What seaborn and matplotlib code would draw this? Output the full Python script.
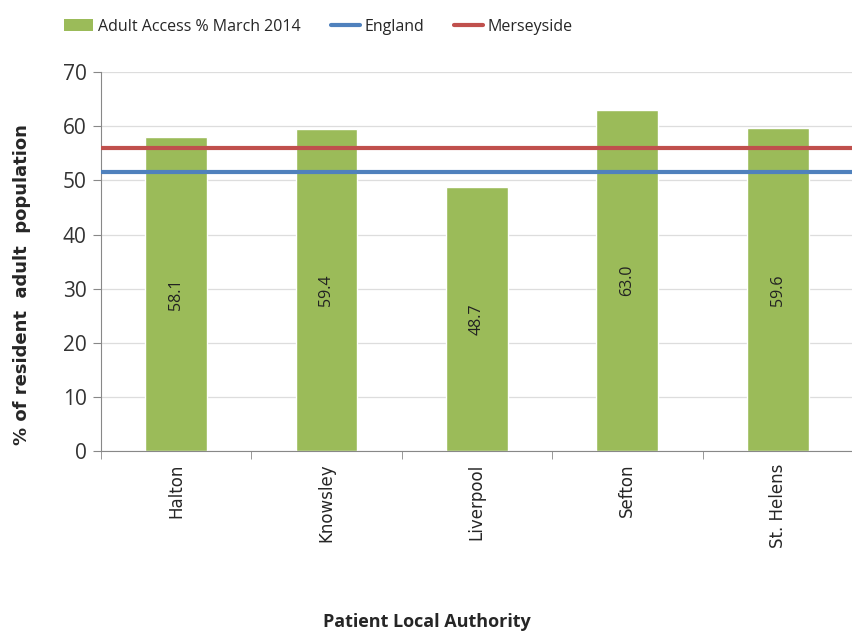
import numpy as np
import pandas as pd
import seaborn as sns
import matplotlib.pyplot as plt
from matplotlib.lines import Line2D
from matplotlib.patches import Patch

# =============================================================================
# DATA
# =============================================================================

authorities = ["Halton", "Knowsley", "Liverpool", "Sefton", "St. Helens"]
access_pct = [58.1, 59.4, 48.7, 63.0, 59.6]
england_pct = 51.5
merseyside_pct = 56.0

bar_colour = "#9BBB59"
england_colour = "#4F81BD"
merseyside_colour = "#C0504D"

df = pd.DataFrame({"Authority": authorities, "Access": access_pct})

# =============================================================================
# PLOT
# =============================================================================

sns.set_style("white")
plt.rcParams["font.family"] = ["DejaVu Sans"]

fig = plt.figure(figsize=(8.53, 6.32), dpi=100)
ax = fig.add_axes([0.118, 0.286, 0.882, 0.600])

sns.barplot(
    data=df,
    x="Authority",
    y="Access",
    color=bar_colour,
    width=0.41,
    saturation=1,
    ax=ax
)

ax.axhline(england_pct, color=england_colour, linewidth=3, zorder=4)
ax.axhline(merseyside_pct, color=merseyside_colour, linewidth=3, zorder=4)

# value labels, rotated, centred in bars
for i, v in enumerate(access_pct):
    ax.text(i, v / 2, f"{v:.1f}", rotation=90, ha="center", va="center",
            fontsize=11.5, family="Open Sans", color="#222222", zorder=5)

ax.set_ylim(0, 70)
ax.set_xlim(-0.5, len(authorities) - 0.5)
ax.set_yticks(np.arange(0, 71, 10))
ax.yaxis.grid(True, color="#DDDDDD", linewidth=0.9)
ax.set_axisbelow(True)

ax.tick_params(axis="y", labelsize=15, length=6, color="#888888", direction="out", left=True, pad=4)
for lab in ax.get_yticklabels():
    lab.set_family("Open Sans")
    lab.set_color("#333333")

ax.set_xticks(range(len(authorities)))
ax.set_xticklabels(authorities, rotation=90, fontsize=12)
ax.tick_params(axis="x", which="major", length=0, pad=9)
ax.set_xticks(np.arange(-0.5, len(authorities), 1), minor=True)
ax.tick_params(axis="x", which="minor", length=6, color="#888888", direction="out", bottom=True)

for side in ["top", "right"]:
    ax.spines[side].set_visible(False)
for side in ["left", "bottom"]:
    ax.spines[side].set_color("#888888")

ax.set_xlabel("")
ax.set_ylabel("% of resident  adult  population", fontsize=13, fontweight="bold")
ax.yaxis.set_label_coords(-0.092, 0.44)

fig.text(0.5, 0.016, "Patient Local Authority", ha="center", va="center",
         fontsize=13, fontweight="bold", family="Open Sans")

handles = [
    Patch(facecolor=bar_colour, edgecolor="none"),
    Line2D([0], [0], color=england_colour, linewidth=3),
    Line2D([0], [0], color=merseyside_colour, linewidth=3),
]
labels = ["Adult Access % March 2014", "England", "Merseyside"]
fig.legend(handles, labels, loc="center left", bbox_to_anchor=(0.066, 0.958), ncol=3,
           frameon=False, columnspacing=1.9, handlelength=1.8, handletextpad=0.3,
           borderpad=0, prop={"family": "Open Sans", "size": 11.5})

fig.savefig("out.png", dpi=100)
